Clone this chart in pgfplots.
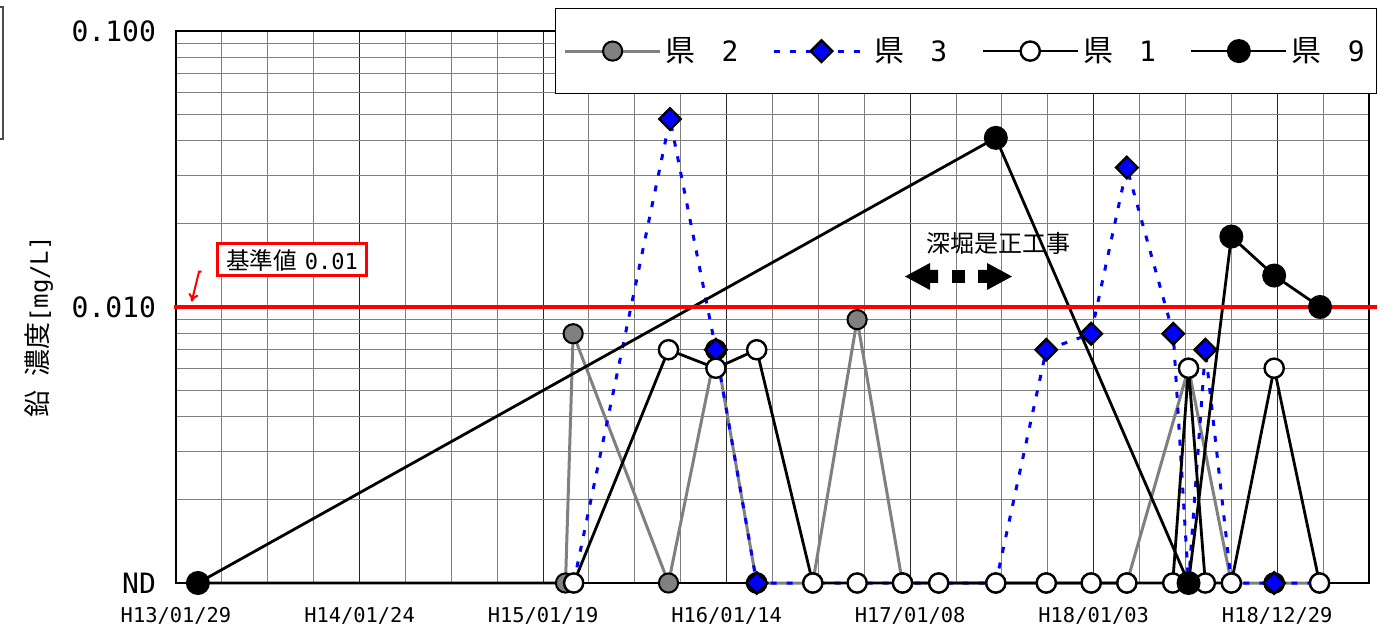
\documentclass[border=0pt]{standalone}
\usepackage{fontspec}
\setmainfont{DejaVu Sans Mono}
\newfontfamily\jp{Noto Sans CJK JP}
\usepackage{pgfplots}
\pgfplotsset{compat=1.18}
\usetikzlibrary{arrows.meta}
\definecolor{ken2}{RGB}{128,128,128}
\pgfplotsset{ken3legend/.style={legend image code/.code={
    \draw[##1, mark=none] (0pt,0pt) -- (47.5pt,0pt);
    \draw[##1, mark indices={1}] plot coordinates {(23.75pt,0pt)};}}}
\begin{document}
\begin{tikzpicture}
\useasboundingbox (-88pt,-23.5pt) rectangle (611pt,291.5pt);
\begin{axis}[
  scale only axis, width=596.5pt, height=276pt,
  at={(0,0)}, anchor=south west,
  xmin=0, xmax=2340,
  ymode=log, ymin=0.001, ymax=0.1,
  xtick={0,360,720,1080,1440,1800,2160},
  xticklabels={H13/01/29,H14/01/24,H15/01/19,H16/01/14,H17/01/08,H18/01/03,H18/12/29},
  minor xtick={90,180,270,450,540,630,810,900,990,1170,1260,1350,1530,1620,1710,1890,1980,2070,2250},
  ytick={0.001,0.01,0.1}, yticklabels={ND,0.010,0.100},
  minor ytick={0.002,0.003,0.004,0.005,0.006,0.007,0.008,0.009,0.02,0.03,0.04,0.05,0.06,0.07,0.08,0.09},
  grid=both,
  major grid style={black!85, line width=0.5pt},
  minor grid style={black!50, line width=0.5pt},
  major tick length=0pt, minor tick length=0pt,
  axis line style={black, line width=0.7pt},
  clip=false,
  xticklabel style={font=\fontsize{10.2}{12}\selectfont, yshift=-8.5pt},
  yticklabel style={font=\fontsize{14}{16}\selectfont, xshift=-6.5pt},
  ylabel={{\jp\fontsize{13.5}{16}\selectfont 鉛\hspace{7pt}濃度}{\fontsize{12}{14}\selectfont[mg/L]}},
  ylabel style={at={(axis description cs:-0.1148,0.4638)}, anchor=center},
  legend columns=4,
  legend style={at={(axis description cs:0.3177,1.0417)}, anchor=north west,
    draw=black, line width=0.6pt, fill=white, inner xsep=4pt, inner ysep=12.5pt,
    font=\fontsize{14}{15}\selectfont,
    /tikz/every even column/.append style={column sep=15pt}},
  legend image code/.code={\draw[mark repeat=2,mark phase=2,#1] plot coordinates {(0pt,0pt) (23.75pt,0pt) (47.5pt,0pt)};},
]
% 県2
\addplot[ken2, line width=1.5pt, mark=*, mark size=4.8pt,
  mark options={fill=ken2, draw=black, line width=1pt}]
  coordinates {(764,0.001) (779,0.008) (966,0.001) (1059,0.007) (1139,0.001) (1249,0.001) (1336,0.009) (1425,0.001) (1496,0.001) (1608,0.001) (1707,0.001) (1795,0.001) (1865,0.001) (1986,0.006) (2070,0.001) (2154,0.001) (2243,0.001)};
\addlegendentry{{\jp\fontsize{15}{15}\selectfont 県}\hspace{13pt}2}
% black rings under diamonds
\addplot[only marks, mark=*, mark size=5.2pt, mark options={fill=black, draw=black}, forget plot]
  coordinates {(1059,0.007) (1139,0.001) (2154,0.001)};
% 県3
\addplot[blue, line width=1.5pt, dash pattern=on 3pt off 5pt, mark=square*, mark size=3.8pt,
  mark indices={2,3,4,10,11,12,13,15,17},
  mark options={rotate=45, solid, fill=blue, draw=black, line width=1.2pt},
  ken3legend]
  coordinates {(780,0.001) (969,0.048) (1059,0.007) (1139,0.001) (1249,0.001) (1336,0.001) (1425,0.001) (1496,0.001) (1608,0.001) (1707,0.007) (1795,0.008) (1865,0.032) (1956,0.008) (1986,0.001) (2019,0.007) (2070,0.001) (2154,0.001) (2243,0.001)};
\addlegendentry{{\jp\fontsize{15}{15}\selectfont 県}\hspace{13pt}3}
% 県1
\addplot[black, line width=1.4pt, mark=*, mark size=4.8pt,
  mark options={fill=white, draw=black, line width=1.2pt}]
  coordinates {(43,0.001) (780,0.001) (966,0.007) (1059,0.006) (1139,0.007) (1249,0.001) (1336,0.001) (1425,0.001) (1496,0.001) (1608,0.001) (1707,0.001) (1795,0.001) (1865,0.001) (1955,0.001) (1986,0.006) (2019,0.001) (2070,0.001) (2154,0.006) (2243,0.001)};
\addlegendentry{{\jp\fontsize{15}{15}\selectfont 県}\hspace{13pt}1}
% 県9
\addplot[black, line width=1.4pt, mark=*, mark size=5.3pt,
  mark options={fill=black, draw=black}]
  coordinates {(43,0.001) (1608,0.041) (1986,0.001) (2070,0.018) (2154,0.013) (2244,0.010)};
\addlegendentry{{\jp\fontsize{15}{15}\selectfont 県}\hspace{13pt}9}
% 基準値 line
\addplot[red, line width=1.6pt, forget plot] coordinates {(-4,0.01) (2355,0.01)};
\end{axis}
% cut-off box at top-left
\draw[black!70, line width=0.6pt] (-120pt,222pt) rectangle (-86.5pt,288pt);
% 基準値 label
\node[draw=red, line width=1.5pt, fill=white, minimum width=74pt, minimum height=16pt, inner sep=0pt]
  at (58pt,161.5pt) {{\jp\fontsize{11.8}{12}\selectfont 基準値}\hspace{4pt}{\fontsize{11}{12}\selectfont 0.01}};
\draw[red, line width=1pt, -{To[length=4pt,width=5pt]}] (12.85pt,155.65pt) -- (11.5pt,155.65pt) -- (7.85pt,140.65pt);
% 深堀是正工事
\node[font=\jp\fontsize{12}{14}\selectfont] at (411pt,170pt) {深堀是正工事};
\fill[black] (364.5pt,153.25pt) -- (377pt,160pt) -- (377pt,156.5pt) -- (381pt,156.5pt) -- (381pt,150pt) -- (377pt,150pt) -- (377pt,146.5pt) -- cycle;
\fill[black] (388pt,150pt) rectangle (394.5pt,156.5pt);
\fill[black] (418pt,153.25pt) -- (405.5pt,160pt) -- (405.5pt,156.5pt) -- (401pt,156.5pt) -- (401pt,150pt) -- (405.5pt,150pt) -- (405.5pt,146.5pt) -- cycle;
\end{tikzpicture}
\end{document}
